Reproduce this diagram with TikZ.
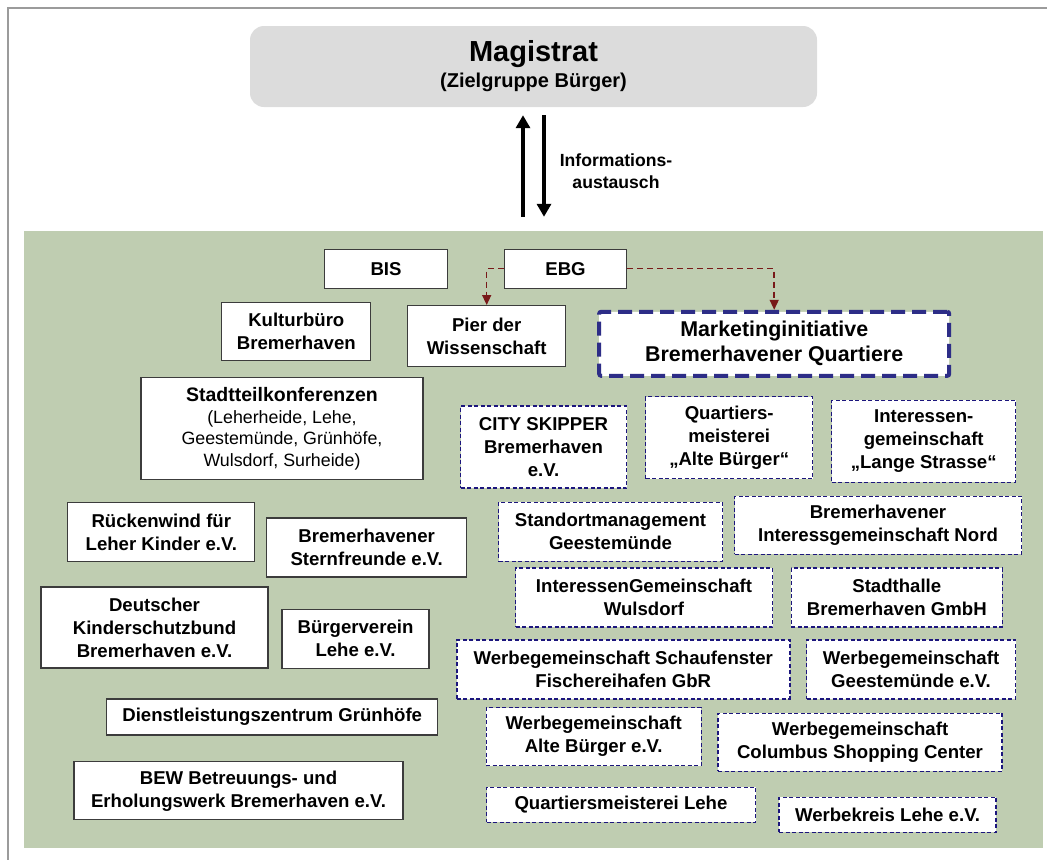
\documentclass[tikz,border=0pt]{standalone}
\usepackage{fontspec}
\setmainfont{Liberation Sans}
\usetikzlibrary{arrows.meta}
\definecolor{gruen}{RGB}{191,205,177}
\definecolor{magistratgrau}{RGB}{220,220,220}
\definecolor{rahmenlinie}{RGB}{155,155,155}
\definecolor{rahmengrau}{RGB}{60,60,60}
\definecolor{quartierblau}{RGB}{28,22,125}
\definecolor{markeblau}{RGB}{45,45,135}
\definecolor{ebgrot}{RGB}{120,25,25}
\begin{document}
\begin{tikzpicture}[x=1pt,y=-1pt,
	txt/.style={align=center,inner sep=0pt,font=\fontsize{18.6}{23}\selectfont\bfseries},
	feld/.style={txt,draw=rahmengrau,line width=1.2pt,fill=white},
	quartier/.style={txt,draw=quartierblau,line width=1.4pt,dash pattern=on 4pt off 2.5pt,fill=white},
	marke/.style={txt,draw=markeblau,line width=4pt,dash pattern=on 14pt off 7pt,rounded corners=2pt,fill=white,font=\fontsize{21.4}{25}\selectfont\bfseries},
	ebglinie/.style={draw=ebgrot,line width=1.5pt,dash pattern=on 6pt off 4pt,-{Triangle[length=10pt,width=9pt]}},
	infopfeil/.style={line width=4pt,-{Triangle[length=13pt,width=14pt]}},
	mass/.style 2 args={minimum width=#1,minimum height=#2}]
	\useasboundingbox (0,0) rectangle (1047,860);
	\draw[line width=2pt,rahmenlinie] (1047,7.5)--(7.5,7.5)--(7.5,860);
	\node[fill=gruen,inner sep=0pt,mass={1019}{617}] (akteure) at (533.5,539.5) {};
	\node[fill=magistratgrau,rounded corners=14pt,inner sep=0pt,mass={567}{81},align=center,
		font=\fontsize{20}{26}\selectfont\bfseries] (magistrat) at (533.5,66.5)
		{{\fontsize{29}{33}\selectfont Magistrat}\\(Zielgruppe Bürger)};
	\draw[infopfeil] ([xshift=-10.5pt,yshift=14pt]akteure.north)--([xshift=-10.5pt,yshift=-8pt]magistrat.south);
	\draw[infopfeil] ([xshift=10.5pt,yshift=-8pt]magistrat.south)--([xshift=10.5pt,yshift=14pt]akteure.north);
	\node[txt,font=\fontsize{17.6}{22}\selectfont\bfseries] (info) at (616,171) {Informations-\\austausch};
	% linke Seite
	\node[feld,mass={123}{39}] (bis) at (386,268.7) {BIS};
	\node[feld,mass={122}{39}] (ebg) at (565.5,268.7) {EBG};
	\node[feld,mass={149}{58}] (kultur) at (296.3,331.8) {Kulturbüro\\Bremerhaven};
	\node[feld,mass={158}{61}] (pier) at (486.7,336.1) {Pier der\\Wissenschaft};
	\node[feld,mass={282}{102},font=\fontsize{17.8}{21.5}\selectfont] (stadtteil) at (282,428.7)
		{{\fontsize{19.5}{23}\selectfont\bfseries Stadtteilkonferenzen}\\(Leherheide, Lehe,\\Geestemünde, Grünhöfe,\\Wulsdorf, Surheide)};
	\node[feld,mass={187}{59}] (rueckenwind) at (161.3,532.2) {Rückenwind für\\Leher Kinder e.V.};
	\node[feld,mass={200}{59}] (stern) at (366.7,547.5) {Bremerhavener\\Sternfreunde e.V.};
	\node[feld,mass={227}{81}] (kinderschutz) at (154.5,627.5) {Deutscher\\Kinderschutzbund\\Bremerhaven e.V.};
	\node[feld,mass={147}{59}] (buergerverein) at (355.5,638.8) {Bürgerverein\\Lehe e.V.};
	\node[feld,mass={331}{36}] (dienst) at (272.2,717) {Dienstleistungszentrum Grünhöfe};
	\node[feld,mass={329}{58}] (bew) at (238.5,790.8) {BEW Betreuungs- und\\Erholungswerk Bremerhaven e.V.};
	% Marketinginitiative und Quartiere
	\node[marke,mass={350}{64}] (marketing) at (774.2,343.8) {Marketinginitiative\\Bremerhavener Quartiere};
	\node[quartier,mass={166}{82}] (city) at (543.5,447) {CITY SKIPPER\\Bremerhaven\\e.V.};
	\node[quartier,mass={167}{82}] (altebuerger) at (729.2,437.5) {Quartiers-\\meisterei\\„Alte Bürger“};
	\node[quartier,mass={184}{82}] (langestr) at (923.7,441.3) {Interessen-\\gemeinschaft\\„Lange Strasse“};
	\node[quartier,mass={224}{59}] (standort) at (610.5,531.7) {Standortmanagement\\Geestemünde};
	\node[quartier,mass={287}{58}] (nord) at (878,525.2) {Bremerhavener\\Interessgemeinschaft Nord};
	\node[quartier,mass={257}{59}] (wulsdorf) at (644,597.5) {InteressenGemeinschaft\\Wulsdorf};
	\node[quartier,mass={211}{59}] (stadthalle) at (896.8,597.5) {Stadthalle\\Bremerhaven GmbH};
	\node[quartier,mass={333}{59}] (schaufenster) at (623.3,669.3) {Werbegemeinschaft Schaufenster\\Fischereihafen GbR};
	\node[quartier,mass={209}{59}] (geestemuende) at (911,669.3) {Werbegemeinschaft\\Geestemünde e.V.};
	\node[quartier,mass={215}{58}] (wgalte) at (593.7,736.7) {Werbegemeinschaft\\Alte Bürger e.V.};
	\node[quartier,mass={284}{58}] (columbus) at (860,742.2) {Werbegemeinschaft\\Columbus Shopping Center};
	\node[quartier,mass={269}{35}] (qmlehe) at (621,804.7) {Quartiersmeisterei Lehe};
	\node[quartier,mass={217}{35}] (werbekreis) at (887.6,814.7) {Werbekreis Lehe e.V.};
	\draw[ebglinie] (ebg.west)-|(pier.north);
	\draw[ebglinie] (ebg.east)-|(marketing.north);
\end{tikzpicture}
\end{document}
